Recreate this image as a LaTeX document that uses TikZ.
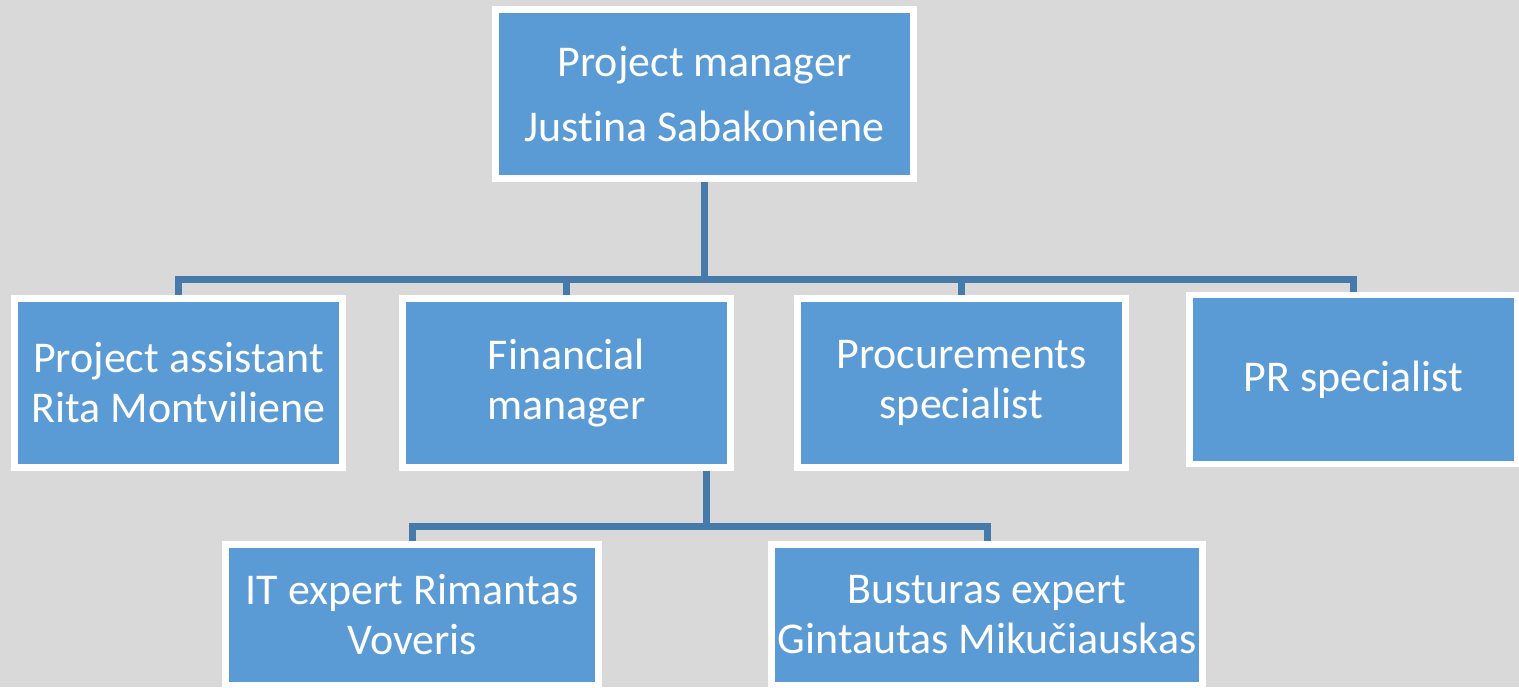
\documentclass[tikz,border=0pt]{standalone}
\usepackage{fontspec}
\setmainfont[Ligatures=NoCommon]{Carlito}
\usetikzlibrary{positioning}

\definecolor{bgGray}{HTML}{D9D9D9}
\definecolor{boxBlue}{HTML}{5B9BD5}
\definecolor{lineBlue}{HTML}{467AAB}

\begin{document}
\begin{tikzpicture}[x=0.02cm, y=-0.02cm,
    box/.style={draw=white, line width=3.7pt, fill=boxBlue, text=white,
        align=center, inner sep=0pt, minimum height=3.39cm,
        font=\fontsize{25}{28.5}\selectfont},
    link/.style={draw=lineBlue, line width=0.14cm, line join=miter}]
    \fill[bgGray] (0,0) rectangle (1519,687);
    \useasboundingbox (0,0) rectangle (1519,687);

    % boxes
    \node[box, minimum width=8.37cm] (pm) at (704.5,94) {Project manager\\[9pt]Justina Sabakoniene};

    \node[box, minimum width=6.57cm] (pa) at (178.5,383) {Project assistant\\Rita Montviliene};
    \node[box, minimum width=6.57cm] (fm) at (566.5,383) {Financial\\manager};
    \node[box, minimum width=6.57cm] (pc) at (961.5,383) {Procurements\\specialist};
    \node[box, minimum width=6.57cm] (pr) at (1353.5,379.5) {PR specialist};

    \node[box, minimum width=7.47cm, minimum height=2.83cm] (it) at (412,615) {IT expert Rimantas\\Voveris};
    \node[box, minimum width=8.63cm, minimum height=2.83cm] (bt) at (987,615) {Busturas expert\\Gintautas Miku\v{c}iauskas};

    % connectors
    \coordinate (bus) at (705.5,279.5);
    \coordinate (fmbus) at (706,526);

    \draw[link] (pm.south) -- (pm.south |- bus);
    \draw[link] (pa.north) -- (pa.north |- bus) -- (pr.north |- bus) -- (pr.north);
    \draw[link] (fm.north |- bus) -- (fm.north);
    \draw[link] (pc.north |- bus) -- (pc.north);

    \draw[link] (fmbus |- fm.south) -- (fmbus);
    \draw[link] (it.north) -- (it.north |- fmbus) -- (bt.north |- fmbus) -- (bt.north);
\end{tikzpicture}
\end{document}
